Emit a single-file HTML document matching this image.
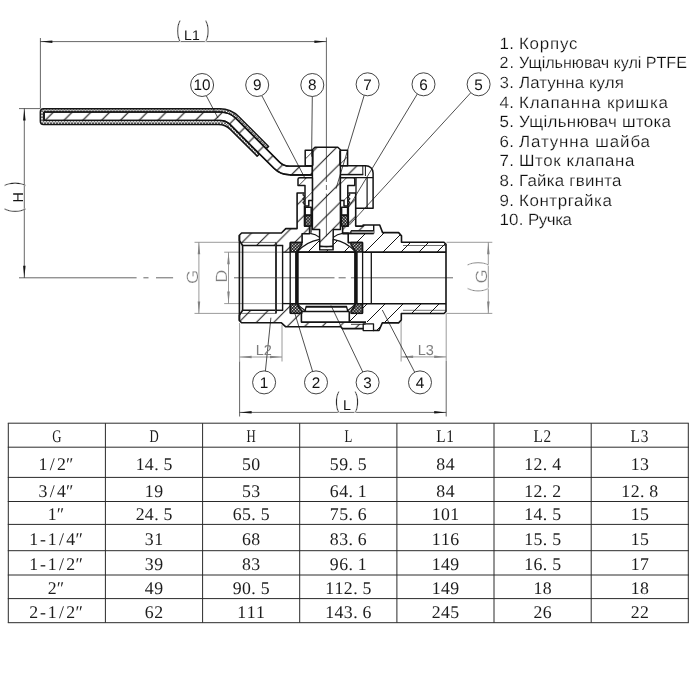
<!DOCTYPE html>
<html><head><meta charset="utf-8"><title>Ball valve</title>
<style>
html,body{margin:0;padding:0;background:#fff;}
#pg{position:relative;width:700px;height:700px;overflow:hidden;background:#fff;filter:grayscale(1);font-family:"Liberation Sans",sans-serif;}
svg text{font-family:"Liberation Sans",sans-serif;text-rendering:geometricPrecision;}
svg.tb text{font-family:"Liberation Serif",serif;fill:#1c1c1c;}
svg.lgd text{fill:#101010;stroke:#fff;stroke-width:0.2px;}
</style></head><body><div id="pg">
<svg width="700" height="700" viewBox="0 0 700 700" style="position:absolute;left:0;top:0">
<defs>
<pattern id="hHandle" patternUnits="userSpaceOnUse" width="18.8" height="18.8" patternTransform="translate(15.10,0)"><path d="M-1,1 L1,-1 M-1,19.8 L19.8,-1 M17.8,19.8 L19.8,17.8" stroke="#141414" stroke-width="1.15" fill="none"/></pattern>
<pattern id="hBody" patternUnits="userSpaceOnUse" width="17.5" height="17.5" patternTransform="translate(12.10,0)"><path d="M-1,1 L1,-1 M-1,18.5 L18.5,-1 M16.5,18.5 L18.5,16.5" stroke="#141414" stroke-width="1.0" fill="none"/></pattern>
<pattern id="hCap" patternUnits="userSpaceOnUse" width="18.0" height="18.0" patternTransform="translate(5.00,0)"><path d="M-1,1 L1,-1 M-1,19.0 L19.0,-1 M17.0,19.0 L19.0,17.0" stroke="#141414" stroke-width="1.0" fill="none"/></pattern>
<pattern id="hBodyB" patternUnits="userSpaceOnUse" width="17.5" height="17.5" patternTransform="translate(1.20,0)"><path d="M-1,1 L1,-1 M-1,18.5 L18.5,-1 M16.5,18.5 L18.5,16.5" stroke="#141414" stroke-width="1.0" fill="none"/></pattern>
<pattern id="hStem" patternUnits="userSpaceOnUse" width="19.5" height="19.5" patternTransform="translate(16.00,0)"><path d="M-1,1 L1,-1 M-1,20.5 L20.5,-1 M18.5,20.5 L20.5,18.5" stroke="#141414" stroke-width="1.0" fill="none"/></pattern>
<pattern id="hBall" patternUnits="userSpaceOnUse" width="18.0" height="18.0" patternTransform="translate(2.00,0)"><path d="M-1,1 L1,-1 M-1,19.0 L19.0,-1 M17.0,19.0 L19.0,17.0" stroke="#141414" stroke-width="1.0" fill="none"/></pattern>
<pattern id="hNut" patternUnits="userSpaceOnUse" width="20.0" height="20.0" patternTransform="translate(4.30,0)"><path d="M-1,1 L1,-1 M-1,21.0 L21.0,-1 M19.0,21.0 L21.0,19.0" stroke="#141414" stroke-width="0.8" fill="none"/></pattern>
<pattern id="xh" patternUnits="userSpaceOnUse" width="3" height="3" patternTransform="translate(0,0.3)"><rect width="3" height="3" fill="#fff"/><path d="M0,0 L3,3 M0,3 L3,0" stroke="#222" stroke-width="0.7"/></pattern>
<pattern id="xh2" patternUnits="userSpaceOnUse" width="2.2" height="2.2" patternTransform="rotate(45)"><rect width="2.2" height="2.2" fill="#1a1a1a"/><circle cx="1.1" cy="1.1" r="0.68" fill="#fff"/></pattern>
</defs>
<line x1="40.4" y1="38.0" x2="40.4" y2="108.6" stroke="#141414" stroke-width="0.65" />
<line x1="40.4" y1="41.6" x2="326.4" y2="41.6" stroke="#141414" stroke-width="0.65" />
<polygon points="40.4,41.6 52.4,40.4 52.4,42.9" fill="#141414"/>
<polygon points="326.4,41.6 314.4,40.4 314.4,42.9" fill="#141414"/>
<line x1="326.4" y1="37.5" x2="326.4" y2="147.0" stroke="#141414" stroke-width="0.65" />
<line x1="19.0" y1="108.6" x2="40.0" y2="108.6" stroke="#141414" stroke-width="0.65" />
<line x1="24.3" y1="108.6" x2="24.3" y2="277.8" stroke="#141414" stroke-width="0.65" />
<polygon points="24.3,108.6 23.1,120.6 25.6,120.6" fill="#141414"/>
<polygon points="24.3,277.8 23.1,265.8 25.6,265.8" fill="#141414"/>
<line x1="19.0" y1="277.8" x2="136.6" y2="277.8" stroke="#141414" stroke-width="0.65" />
<line x1="143.4" y1="277.8" x2="148.5" y2="277.8" stroke="#141414" stroke-width="0.65" />
<line x1="156.0" y1="277.8" x2="173.1" y2="277.8" stroke="#141414" stroke-width="0.65" />
<line x1="234.0" y1="277.8" x2="334.5" y2="277.8" stroke="#141414" stroke-width="0.65" />
<line x1="338.6" y1="277.8" x2="345.7" y2="277.8" stroke="#141414" stroke-width="0.65" />
<line x1="350.9" y1="277.8" x2="453.0" y2="277.8" stroke="#141414" stroke-width="0.65" />
<line x1="239.6" y1="323.0" x2="239.6" y2="361.5" stroke="#828282" stroke-width="0.8" />
<line x1="239.6" y1="361.5" x2="239.6" y2="416.5" stroke="#141414" stroke-width="0.65" />
<line x1="446.2" y1="361.0" x2="446.2" y2="416.5" stroke="#141414" stroke-width="0.65" />
<line x1="239.6" y1="412.4" x2="446.2" y2="412.4" stroke="#141414" stroke-width="0.65" />
<polygon points="239.6,412.4 251.6,411.1 251.6,413.6" fill="#141414"/>
<polygon points="446.2,412.4 434.2,411.1 434.2,413.6" fill="#141414"/>
<line x1="194.5" y1="242.3" x2="239.0" y2="242.3" stroke="#828282" stroke-width="0.8" />
<line x1="194.5" y1="313.4" x2="239.0" y2="313.4" stroke="#828282" stroke-width="0.8" />
<line x1="198.9" y1="242.3" x2="198.9" y2="313.4" stroke="#828282" stroke-width="0.8" />
<polygon points="198.9,242.3 197.7,254.3 200.2,254.3" fill="#828282"/>
<polygon points="198.9,313.4 197.7,301.4 200.2,301.4" fill="#828282"/>
<line x1="224.2" y1="252.2" x2="282.0" y2="252.2" stroke="#828282" stroke-width="0.8" />
<line x1="224.2" y1="303.6" x2="282.0" y2="303.6" stroke="#828282" stroke-width="0.8" />
<line x1="228.5" y1="252.2" x2="228.5" y2="303.6" stroke="#828282" stroke-width="0.8" />
<polygon points="228.5,252.2 227.2,264.2 229.8,264.2" fill="#828282"/>
<polygon points="228.5,303.6 227.2,291.6 229.8,291.6" fill="#828282"/>
<line x1="446.5" y1="242.3" x2="492.3" y2="242.3" stroke="#828282" stroke-width="0.8" />
<line x1="446.5" y1="313.4" x2="492.3" y2="313.4" stroke="#828282" stroke-width="0.8" />
<line x1="488.3" y1="242.3" x2="488.3" y2="313.4" stroke="#828282" stroke-width="0.8" />
<polygon points="488.3,242.3 487.1,254.3 489.6,254.3" fill="#828282"/>
<polygon points="488.3,313.4 487.1,301.4 489.6,301.4" fill="#828282"/>
<line x1="282.0" y1="325.0" x2="282.0" y2="361.5" stroke="#828282" stroke-width="0.8" />
<line x1="239.6" y1="357.0" x2="282.0" y2="357.0" stroke="#828282" stroke-width="0.8" />
<polygon points="239.6,357.0 251.6,355.8 251.6,358.2" fill="#828282"/>
<polygon points="282.0,357.0 270.0,355.8 270.0,358.2" fill="#828282"/>
<line x1="401.1" y1="321.0" x2="401.1" y2="361.5" stroke="#828282" stroke-width="0.8" />
<line x1="446.2" y1="313.4" x2="446.2" y2="361.0" stroke="#828282" stroke-width="0.8" />
<line x1="401.1" y1="356.9" x2="446.2" y2="356.9" stroke="#828282" stroke-width="0.8" />
<polygon points="401.1,356.9 413.1,355.6 413.1,358.1" fill="#828282"/>
<polygon points="446.2,356.9 434.2,355.6 434.2,358.1" fill="#828282"/>
<path d="M43.5,108.7 L219.9,108.7 Q230.9,108.7 238.7,116.5 L268.6,146.4 L266.2,148.8 L236.0,118.5 Q229.6,112.1 220.6,112.1 L44.1,112.1 L44.1,120.4 L220.0,120.4 Q226.0,120.4 230.2,124.6 L259.5,153.9 L257.1,156.2 L230.3,129.4 Q225.4,124.5 218.4,124.5 L43.5,124.5 L43.5,124.5 Q40.3,124.5 40.3,121.3 L40.3,111.9 Q40.3,108.7 43.5,108.7 Z" stroke="#141414" stroke-width="1.4" fill="url(#xh)" stroke-linejoin="round" stroke-linecap="butt" />
<path d="M44.1,112.1 L220.6,112.1 Q229.6,112.1 236.0,118.5 L279.4,161.9 Q283.6,166.1 289.6,166.1 L312.5,166.1 L312.5,174.7 L289.3,174.7 Q280.3,174.7 273.9,168.3 L230.2,124.6 Q226.0,120.4 220.0,120.4 L44.1,120.4 Z" stroke="#141414" stroke-width="1.4" fill="#fff" stroke-linejoin="round" stroke-linecap="butt" />
<path d="M44.1,112.1 L220.6,112.1 Q229.6,112.1 236.0,118.5 L279.4,161.9 Q283.6,166.1 289.6,166.1 L312.5,166.1 L312.5,174.7 L289.3,174.7 Q280.3,174.7 273.9,168.3 L230.2,124.6 Q226.0,120.4 220.0,120.4 L44.1,120.4 Z" stroke="#141414" stroke-width="0" fill="url(#hHandle)" stroke-linejoin="round" stroke-linecap="butt" />
<path d="M44.1,112.1 L220.6,112.1 Q229.6,112.1 236.0,118.5 L279.4,161.9 Q283.6,166.1 289.6,166.1 L312.5,166.1 L312.5,174.7 L289.3,174.7 Q280.3,174.7 273.9,168.3 L230.2,124.6 Q226.0,120.4 220.0,120.4 L44.1,120.4 Z" stroke="#141414" stroke-width="1.4" fill="none" stroke-linejoin="round" stroke-linecap="butt" />
<line x1="290.0" y1="174.9" x2="312.5" y2="174.9" stroke="#141414" stroke-width="1.8" />
<path d="M340.4,165.7 L365.8,165.7 A7.3,7.3 0 0 1 373.1,173 L373.1,177.6 L340.4,177.6 Z" stroke="#141414" stroke-width="0" fill="#fff" stroke-linejoin="round" stroke-linecap="butt" />
<path d="M340.4,165.7 L362.8,165.7 L362.8,174.6 L340.4,174.6 Z" stroke="#141414" stroke-width="0" fill="url(#hHandle)" stroke-linejoin="round" stroke-linecap="butt" />
<path d="M340.4,165.7 L365.8,165.7 A7.3,7.3 0 0 1 373.1,173 L373.1,208.2 L356,208.2" stroke="#141414" stroke-width="1.5" fill="none" stroke-linejoin="round" stroke-linecap="butt" />
<line x1="356.0" y1="177.6" x2="356.0" y2="193.0" stroke="#141414" stroke-width="1.3" />
<line x1="340.4" y1="174.6" x2="363.3" y2="174.6" stroke="#141414" stroke-width="1.5" />
<line x1="340.4" y1="177.6" x2="373.1" y2="177.6" stroke="#141414" stroke-width="1.3" />
<line x1="362.8" y1="165.7" x2="362.8" y2="174.6" stroke="#141414" stroke-width="1.0" />
<line x1="365.4" y1="166.0" x2="365.4" y2="176.0" stroke="#141414" stroke-width="1.0" />
<line x1="367.1" y1="177.6" x2="367.1" y2="208.2" stroke="#141414" stroke-width="1.2" />
<path d="M315.0,147.2 L337.8,147.2 L340.4,149.8 L340.4,229.6 L333.2,229.6 L333.2,246.4 L319.6,246.4 L319.6,229.6 L312.4,229.6 L312.4,149.8Z" stroke="#141414" stroke-width="0" fill="#fff" stroke-linejoin="round" stroke-linecap="butt" />
<path d="M315.0,147.2 L337.8,147.2 L340.4,149.8 L340.4,229.6 L333.2,229.6 L333.2,246.4 L319.6,246.4 L319.6,229.6 L312.4,229.6 L312.4,149.8Z" stroke="#141414" stroke-width="0" fill="url(#hStem)" stroke-linejoin="round" stroke-linecap="butt" />
<path d="M315.0,147.2 L337.8,147.2 L340.4,149.8 L340.4,229.6 L333.2,229.6 L333.2,246.4 L319.6,246.4 L319.6,229.6 L312.4,229.6 L312.4,149.8Z" stroke="#141414" stroke-width="1.5" fill="none" stroke-linejoin="round" stroke-linecap="butt" />
<line x1="312.4" y1="150.5" x2="312.4" y2="165.5" stroke="#141414" stroke-width="2.2" />
<line x1="340.4" y1="150.5" x2="340.4" y2="165.5" stroke="#141414" stroke-width="2.2" />
<line x1="319.6" y1="250.0" x2="333.2" y2="250.0" stroke="#141414" stroke-width="1.2" />
<path d="M319.6,246.0 Q326.4,247.6 333.2,246.0" stroke="#141414" stroke-width="1.0" fill="none" stroke-linejoin="round" stroke-linecap="butt" />
<line x1="319.6" y1="246.4" x2="319.6" y2="250.5" stroke="#141414" stroke-width="1.3" />
<line x1="333.2" y1="246.4" x2="333.2" y2="250.5" stroke="#141414" stroke-width="1.3" />
<line x1="326.4" y1="147.0" x2="326.4" y2="182.0" stroke="#141414" stroke-width="0.65" />
<line x1="326.4" y1="185.0" x2="326.4" y2="190.0" stroke="#141414" stroke-width="0.65" />
<line x1="326.4" y1="193.6" x2="326.4" y2="236.4" stroke="#141414" stroke-width="0.65" />
<line x1="326.4" y1="249.5" x2="326.4" y2="252.5" stroke="#141414" stroke-width="0.65" />
<path d="M305.2,150.2 L312.4,150.2 L312.4,165.7 L305.2,165.7Z" stroke="#141414" stroke-width="0" fill="#fff" stroke-linejoin="round" stroke-linecap="butt" />
<path d="M305.2,150.2 L312.4,150.2 L312.4,165.7 L305.2,165.7Z" stroke="#141414" stroke-width="0" fill="url(#hNut)" stroke-linejoin="round" stroke-linecap="butt" />
<path d="M305.2,150.2 L312.4,150.2 L312.4,165.7 L305.2,165.7Z" stroke="#141414" stroke-width="1.5" fill="none" stroke-linejoin="round" stroke-linecap="butt" />
<path d="M347.6,150.2 L340.4,150.2 L340.4,165.7 L347.6,165.7Z" stroke="#141414" stroke-width="0" fill="#fff" stroke-linejoin="round" stroke-linecap="butt" />
<path d="M347.6,150.2 L340.4,150.2 L340.4,165.7 L347.6,165.7Z" stroke="#141414" stroke-width="0" fill="url(#hNut)" stroke-linejoin="round" stroke-linecap="butt" />
<path d="M347.6,150.2 L340.4,150.2 L340.4,165.7 L347.6,165.7Z" stroke="#141414" stroke-width="1.5" fill="none" stroke-linejoin="round" stroke-linecap="butt" />
<path d="M299.6,177.7 L312.4,177.7 L312.4,200.4 L308.8,200.4 L308.8,206 L305,206 L305,185.4 L298,185.4 L298,179.3 Q298,177.7 299.6,177.7 Z" stroke="#141414" stroke-width="0" fill="#fff" stroke-linejoin="round" stroke-linecap="butt" />
<path d="M299.6,177.7 L312.4,177.7 L312.4,200.4 L308.8,200.4 L308.8,206 L305,206 L305,185.4 L298,185.4 L298,179.3 Q298,177.7 299.6,177.7 Z" stroke="#141414" stroke-width="0" fill="url(#hNut)" stroke-linejoin="round" stroke-linecap="butt" />
<path d="M299.6,177.7 L312.4,177.7 L312.4,200.4 L308.8,200.4 L308.8,206 L305,206 L305,185.4 L298,185.4 L298,179.3 Q298,177.7 299.6,177.7 Z" stroke="#141414" stroke-width="1.5" fill="none" stroke-linejoin="round" stroke-linecap="butt" />
<path d="M 353.2,177.7 L 340.4,177.7 L 340.4,200.4 L 344.0,200.4 L 344.0,206.0 L 347.8,206.0 L 347.8,185.4 L 354.8,185.4 L 354.8,179.3 Q 354.8,177.7 353.2,177.7 Z" stroke="#141414" stroke-width="0" fill="#fff" stroke-linejoin="round" stroke-linecap="butt" />
<path d="M 353.2,177.7 L 340.4,177.7 L 340.4,200.4 L 344.0,200.4 L 344.0,206.0 L 347.8,206.0 L 347.8,185.4 L 354.8,185.4 L 354.8,179.3 Q 354.8,177.7 353.2,177.7 Z" stroke="#141414" stroke-width="0" fill="url(#hNut)" stroke-linejoin="round" stroke-linecap="butt" />
<path d="M 353.2,177.7 L 340.4,177.7 L 340.4,200.4 L 344.0,200.4 L 344.0,206.0 L 347.8,206.0 L 347.8,185.4 L 354.8,185.4 L 354.8,179.3 Q 354.8,177.7 353.2,177.7 Z" stroke="#141414" stroke-width="1.5" fill="none" stroke-linejoin="round" stroke-linecap="butt" />
<path d="M304.2,193.8 q-2.6,1.0 0,2.0 l0,1.9 q-2.6,1.0 0,2.0 l0,1.9 q-2.6,1.0 0,2.0 l0,1.9" stroke="#141414" stroke-width="1.2" fill="none" stroke-linejoin="round" stroke-linecap="butt" />
<path d="M348.6,193.8 q2.6,1.0 0,2.0 l0,1.9 q2.6,1.0 0,2.0 l0,1.9 q2.6,1.0 0,2.0 l0,1.9" stroke="#141414" stroke-width="1.2" fill="none" stroke-linejoin="round" stroke-linecap="butt" />
<path d="M239.4,235.2 L241.6,233.0 L281.4,233.0 L285.8,228.6 L297.1,228.6 L297.1,193.0 L304.5,193.0 L304.5,226.1 L309.6,226.1 L309.6,233.7 L302.1,233.7 L302.1,242.5 L290.4,242.5 L290.4,252.1 L282.6,252.1 L282.6,245.5 L242.6,245.5 L239.4,240.5Z" stroke="#141414" stroke-width="0" fill="url(#hBody)" stroke-linejoin="round" stroke-linecap="butt" />
<path d="M348.3,193.0 L355.7,193.0 L355.7,226.1 L363.1,226.1 L363.1,225.0 L373.7,225.0 L373.7,230.9 L350.9,230.9 L350.9,233.4 L342.6,233.4 L342.6,226.1 L348.3,226.1Z" stroke="#141414" stroke-width="0" fill="url(#hBody)" stroke-linejoin="round" stroke-linecap="butt" />
<path d="M239.4,320.6 L241.6,322.8 L281.4,322.8 L285.8,326.8 L340.7,326.8 L342.5,328.6 L363.5,328.6 L363.5,324.0 L351.0,324.0 L351.0,322.1 L301.4,322.1 L301.4,313.3 L290.4,313.3 L290.4,303.7 L282.6,303.7 L282.6,310.3 L242.6,310.3 L239.4,315.3Z" stroke="#141414" stroke-width="0" fill="url(#hBodyB)" stroke-linejoin="round" stroke-linecap="butt" />
<path d="M348.2,233.4 L373.7,233.4 L373.7,225.0 L379.7,225.0 L382.6,232.6 L398.6,232.6 L401.5,235.9 L401.5,242.3 L444.0,242.3 L446.0,244.3 L446.0,252.1 L362.6,252.1 L362.6,242.6 L348.2,242.6Z" stroke="#141414" stroke-width="0" fill="url(#hCap)" stroke-linejoin="round" stroke-linecap="butt" />
<path d="M349.3,322.1 L366.0,322.1 L373.0,322.1 L373.0,330.5 L379.0,330.5 L382.3,322.9 L398.6,322.9 L401.3,320.0 L401.3,313.5 L444.0,313.5 L446.0,311.5 L446.0,303.7 L362.4,303.7 L362.4,313.3 L349.3,313.3Z" stroke="#141414" stroke-width="0" fill="url(#hCap)" stroke-linejoin="round" stroke-linecap="butt" />
<path d="M242.6,245.5 L239.4,240.5 L239.4,235.2 L241.6,233.0 L281.4,233.0 L285.8,228.6 L297.1,228.6 L297.1,193.0 L304.5,193.0" stroke="#141414" stroke-width="1.6" fill="none" stroke-linejoin="round" stroke-linecap="butt" />
<path d="M304.5,206.0 L304.5,226.1 L309.6,226.1 L309.6,233.7 L302.1,233.7 L302.1,242.5 L290.4,242.5" stroke="#141414" stroke-width="1.6" fill="none" stroke-linejoin="round" stroke-linecap="butt" />
<path d="M242.6,310.3 L239.4,315.3 L239.4,320.6 L241.6,322.8 L281.4,322.8 L285.8,326.8 L340.7,326.8 L342.5,328.6 L363.5,328.6" stroke="#141414" stroke-width="1.6" fill="none" stroke-linejoin="round" stroke-linecap="butt" />
<line x1="239.4" y1="235.2" x2="239.4" y2="320.6" stroke="#141414" stroke-width="1.6" />
<line x1="241.5" y1="242.4" x2="276.0" y2="242.4" stroke="#141414" stroke-width="0.6" />
<line x1="241.5" y1="313.4" x2="276.0" y2="313.4" stroke="#141414" stroke-width="0.6" />
<path d="M276.0,245.5 L242.6,245.5 L242.6,310.3 L276.0,310.3" stroke="#141414" stroke-width="1.6" fill="none" stroke-linejoin="round" stroke-linecap="butt" />
<line x1="276.0" y1="242.4" x2="276.0" y2="313.4" stroke="#333" stroke-width="2.0" />
<line x1="276.0" y1="245.5" x2="283.2" y2="245.5" stroke="#141414" stroke-width="1.5" />
<line x1="276.0" y1="310.3" x2="283.2" y2="310.3" stroke="#141414" stroke-width="1.5" />
<line x1="282.6" y1="245.5" x2="282.6" y2="310.3" stroke="#141414" stroke-width="1.4" />
<line x1="282.6" y1="252.2" x2="290.4" y2="252.2" stroke="#141414" stroke-width="1.3" />
<line x1="282.6" y1="303.6" x2="290.4" y2="303.6" stroke="#141414" stroke-width="1.3" />
<line x1="290.2" y1="242.5" x2="290.2" y2="313.3" stroke="#141414" stroke-width="1.3" />
<path d="M348.3,193.0 L355.7,193.0 L355.7,226.1 L363.1,226.1 L363.1,225.0 L379.7,225.0 L382.6,232.6 L398.6,232.6 L401.5,235.9 L401.5,242.3 L444.0,242.3 L446.0,244.3 L446.0,311.5 L444.0,313.5 L401.3,313.5 L401.3,320.0 L398.6,322.9 L382.3,322.9 L379.0,330.5 L373.0,330.5" stroke="#141414" stroke-width="1.6" fill="none" stroke-linejoin="round" stroke-linecap="butt" />
<path d="M348.3,206.0 L348.3,226.1 L342.6,226.1 L342.6,233.4 L348.2,233.4 L348.2,242.6 L362.6,242.6" stroke="#141414" stroke-width="1.6" fill="none" stroke-linejoin="round" stroke-linecap="butt" />
<line x1="373.7" y1="225.0" x2="373.7" y2="233.4" stroke="#141414" stroke-width="1.4" />
<line x1="350.9" y1="230.9" x2="373.7" y2="230.9" stroke="#141414" stroke-width="1.4" />
<line x1="342.6" y1="233.4" x2="373.7" y2="233.4" stroke="#141414" stroke-width="1.6" />
<path d="M350.9,230.9 L373.7,230.9 L373.7,233.4 L350.9,233.4Z" stroke="#141414" stroke-width="0" fill="#fff" stroke-linejoin="round" stroke-linecap="butt" />
<line x1="350.9" y1="230.9" x2="373.7" y2="230.9" stroke="#141414" stroke-width="1.4" />
<line x1="342.6" y1="233.4" x2="373.7" y2="233.4" stroke="#141414" stroke-width="1.6" />
<line x1="350.9" y1="230.9" x2="350.9" y2="233.4" stroke="#141414" stroke-width="1.2" />
<path d="M363.2,323.8 L373.5,323.8 L373.5,330.6 L363.2,330.6Z" stroke="#141414" stroke-width="1.3" fill="none" stroke-linejoin="round" stroke-linecap="butt" />
<line x1="351.0" y1="324.3" x2="365.5" y2="324.3" stroke="#141414" stroke-width="0.8" />
<line x1="403.0" y1="245.5" x2="446.0" y2="245.5" stroke="#141414" stroke-width="0.6" />
<line x1="403.0" y1="310.3" x2="446.0" y2="310.3" stroke="#141414" stroke-width="0.6" />
<line x1="362.4" y1="252.1" x2="446.0" y2="252.1" stroke="#141414" stroke-width="1.6" />
<line x1="362.4" y1="303.7" x2="446.0" y2="303.7" stroke="#141414" stroke-width="1.6" />
<line x1="362.6" y1="242.5" x2="362.6" y2="313.3" stroke="#141414" stroke-width="1.3" />
<line x1="371.3" y1="252.1" x2="371.3" y2="303.7" stroke="#141414" stroke-width="1.3" />
<path d="M301.4,311.4 L301.4,322.1 L366.0,322.1" stroke="#141414" stroke-width="1.6" fill="none" stroke-linejoin="round" stroke-linecap="butt" />
<line x1="349.3" y1="311.4" x2="349.3" y2="322.1" stroke="#141414" stroke-width="1.6" />
<line x1="301.4" y1="311.4" x2="349.3" y2="311.4" stroke="#141414" stroke-width="1.6" />
<path d="M290.4,313.3 L301.4,313.3" stroke="#141414" stroke-width="1.6" fill="none" stroke-linejoin="round" stroke-linecap="butt" />
<path d="M351.4,313.3 L362.4,313.3" stroke="#141414" stroke-width="1.6" fill="none" stroke-linejoin="round" stroke-linecap="butt" />
<path d="M297,252.1 A39.05,39.05 0 0 1 319.6,239.4 L319.6,250 L333.2,250 L333.2,239.4 A39.05,39.05 0 0 1 355.8,252.1 Z" stroke="#141414" stroke-width="0" fill="#fff" stroke-linejoin="round" stroke-linecap="butt" />
<path d="M297,252.1 A39.05,39.05 0 0 1 319.6,239.4 L319.6,250 L333.2,250 L333.2,239.4 A39.05,39.05 0 0 1 355.8,252.1 Z" stroke="#141414" stroke-width="0" fill="url(#hBall)" stroke-linejoin="round" stroke-linecap="butt" />
<path d="M297,252.1 A39.05,39.05 0 0 1 319.6,239.4 L319.6,250 L333.2,250 L333.2,239.4 A39.05,39.05 0 0 1 355.8,252.1 Z" stroke="#141414" stroke-width="1.2" fill="none" stroke-linejoin="round" stroke-linecap="butt" />
<path d="M311.1,226.1 L311.1,232.7 M310.2,233.4 Q315.8,234.2 319.5,237.4" stroke="#141414" stroke-width="1.1" fill="none" stroke-linejoin="round" stroke-linecap="butt" />
<path d="M342.6,233.4 Q337,234.2 333.3,237.4" stroke="#141414" stroke-width="1.1" fill="none" stroke-linejoin="round" stroke-linecap="butt" />
<path d="M297,303.7 A39.05,39.05 0 0 0 306.4,311.4 L346.4,311.4 A39.05,39.05 0 0 0 355.8,303.7 Z" stroke="#141414" stroke-width="0" fill="#fff" stroke-linejoin="round" stroke-linecap="butt" />
<path d="M297,303.7 A39.05,39.05 0 0 0 306.4,311.4 L346.4,311.4 A39.05,39.05 0 0 0 355.8,303.7 Z" stroke="#141414" stroke-width="1.2" fill="none" stroke-linejoin="round" stroke-linecap="butt" />
<line x1="306.0" y1="306.7" x2="346.6" y2="306.7" stroke="#141414" stroke-width="2.1" />
<line x1="306.3" y1="306.0" x2="304.9" y2="311.4" stroke="#141414" stroke-width="1.3" />
<line x1="346.3" y1="306.0" x2="347.9" y2="311.4" stroke="#141414" stroke-width="1.3" />
<line x1="297.0" y1="252.1" x2="355.8" y2="252.1" stroke="#141414" stroke-width="1.6" />
<line x1="297.0" y1="303.7" x2="355.8" y2="303.7" stroke="#141414" stroke-width="1.6" />
<line x1="296.9" y1="252.1" x2="296.9" y2="303.7" stroke="#141414" stroke-width="3.6" />
<line x1="355.9" y1="252.1" x2="355.9" y2="303.7" stroke="#141414" stroke-width="3.6" />
<path d="M290.4,242.5 L301.8,242.5 L301.8,244.8 L299.4,248.0 L297.0,252.1 L290.4,252.1Z" stroke="#141414" stroke-width="1.5" fill="url(#xh2)" stroke-linejoin="round" stroke-linecap="butt" />
<path d="M362.4,242.5 L351.0,242.5 L351.0,244.8 L353.4,248.0 L355.8,252.1 L362.4,252.1Z" stroke="#141414" stroke-width="1.5" fill="url(#xh2)" stroke-linejoin="round" stroke-linecap="butt" />
<path d="M290.4,313.3 L301.8,313.3 L301.8,311.0 L299.4,307.8 L297.0,303.7 L290.4,303.7Z" stroke="#141414" stroke-width="1.5" fill="url(#xh2)" stroke-linejoin="round" stroke-linecap="butt" />
<path d="M362.4,313.3 L351.0,313.3 L351.0,311.0 L353.4,307.8 L355.8,303.7 L362.4,303.7Z" stroke="#141414" stroke-width="1.5" fill="url(#xh2)" stroke-linejoin="round" stroke-linecap="butt" />
<path d="M305.2,207.3 L311.2,207.3 L311.2,214.9 L305.2,214.9Z" stroke="#141414" stroke-width="1.5" fill="#fff" stroke-linejoin="round" stroke-linecap="butt" />
<path d="M305.0,215.6 L311.4,215.6 L311.4,226.1 L305.0,226.1Z" stroke="#141414" stroke-width="1.5" fill="url(#xh2)" stroke-linejoin="round" stroke-linecap="butt" />
<path d="M347.6,207.3 L341.6,207.3 L341.6,214.9 L347.6,214.9Z" stroke="#141414" stroke-width="1.5" fill="#fff" stroke-linejoin="round" stroke-linecap="butt" />
<path d="M347.8,215.6 L341.4,215.6 L341.4,226.1 L347.8,226.1Z" stroke="#141414" stroke-width="1.5" fill="url(#xh2)" stroke-linejoin="round" stroke-linecap="butt" />
<line x1="206.3" y1="95.8" x2="218.0" y2="118.1" stroke="#141414" stroke-width="0.75" />
<line x1="261.8" y1="95.6" x2="305.4" y2="179.0" stroke="#141414" stroke-width="0.75" />
<line x1="312.3" y1="96.5" x2="311.6" y2="156.7" stroke="#141414" stroke-width="0.75" />
<line x1="364.2" y1="95.3" x2="336.0" y2="188.7" stroke="#141414" stroke-width="0.75" />
<line x1="417.3" y1="94.0" x2="348.2" y2="208.0" stroke="#141414" stroke-width="0.75" />
<line x1="470.8" y1="92.7" x2="349.4" y2="225.0" stroke="#141414" stroke-width="0.75" />
<line x1="265.4" y1="371.0" x2="270.9" y2="317.7" stroke="#141414" stroke-width="0.75" />
<line x1="312.6" y1="371.4" x2="294.6" y2="312.6" stroke="#141414" stroke-width="0.75" />
<line x1="362.8" y1="372.0" x2="331.0" y2="305.5" stroke="#141414" stroke-width="0.75" />
<line x1="414.7" y1="372.2" x2="382.3" y2="310.0" stroke="#141414" stroke-width="0.75" />
<circle cx="202.1" cy="85" r="11.5" fill="#fff" stroke="#141414" stroke-width="0.8"/>
<text x="202.1" y="90.4" font-size="15.3" fill="#141414" text-anchor="middle" >10</text>
<circle cx="257.2" cy="85" r="11.5" fill="#fff" stroke="#141414" stroke-width="0.8"/>
<text x="257.2" y="90.4" font-size="15.3" fill="#141414" text-anchor="middle" >9</text>
<circle cx="312.3" cy="85" r="11.5" fill="#fff" stroke="#141414" stroke-width="0.8"/>
<text x="312.3" y="90.4" font-size="15.3" fill="#141414" text-anchor="middle" >8</text>
<circle cx="367.6" cy="84.3" r="11.5" fill="#fff" stroke="#141414" stroke-width="0.8"/>
<text x="367.6" y="89.7" font-size="15.3" fill="#141414" text-anchor="middle" >7</text>
<circle cx="423.5" cy="84.3" r="11.5" fill="#fff" stroke="#141414" stroke-width="0.8"/>
<text x="423.5" y="89.7" font-size="15.3" fill="#141414" text-anchor="middle" >6</text>
<circle cx="478.6" cy="84.3" r="11.5" fill="#fff" stroke="#141414" stroke-width="0.8"/>
<text x="478.6" y="89.7" font-size="15.3" fill="#141414" text-anchor="middle" >5</text>
<circle cx="264.1" cy="382.4" r="11.5" fill="#fff" stroke="#141414" stroke-width="0.8"/>
<text x="264.1" y="387.8" font-size="15.3" fill="#141414" text-anchor="middle" >1</text>
<circle cx="316" cy="382.4" r="11.5" fill="#fff" stroke="#141414" stroke-width="0.8"/>
<text x="316.0" y="387.8" font-size="15.3" fill="#141414" text-anchor="middle" >2</text>
<circle cx="367.6" cy="382.4" r="11.5" fill="#fff" stroke="#141414" stroke-width="0.8"/>
<text x="367.6" y="387.8" font-size="15.3" fill="#141414" text-anchor="middle" >3</text>
<circle cx="420" cy="382.4" r="11.5" fill="#fff" stroke="#141414" stroke-width="0.8"/>
<text x="420.0" y="387.8" font-size="15.3" fill="#141414" text-anchor="middle" >4</text>
<text x="191.9" y="40.1" font-size="14" fill="#141414" text-anchor="middle" >L1</text>
<text transform="translate(178.5,37.4) rotate(0) scale(0.8,1.35)" x="0" y="0" font-size="17" fill="#141414" text-anchor="middle" stroke="#fff" stroke-width="0.35">(</text>
<text transform="translate(207.2,37.4) rotate(0) scale(0.8,1.35)" x="0" y="0" font-size="17" fill="#141414" text-anchor="middle" stroke="#fff" stroke-width="0.35">)</text>
<text x="22.8" y="197.4" font-size="14.3" fill="#141414" text-anchor="middle" transform="rotate(-90 22.8 197.4)" >H</text>
<text transform="translate(21.0,210.6) rotate(-90) scale(0.8,1.35)" x="0" y="0" font-size="17" fill="#141414" text-anchor="middle" stroke="#fff" stroke-width="0.35">(</text>
<text transform="translate(21.0,184.0) rotate(-90) scale(0.8,1.35)" x="0" y="0" font-size="17" fill="#141414" text-anchor="middle" stroke="#fff" stroke-width="0.35">)</text>
<text transform="translate(197.6,276.8) rotate(-90) scale(1.12,1)" x="0" y="0" font-size="16.3" fill="#7d7d7d" text-anchor="middle" stroke="#fff" stroke-width="0.25">G</text>
<text transform="translate(226.8,276.2) rotate(-90) scale(1.12,1)" x="0" y="0" font-size="16.3" fill="#7d7d7d" text-anchor="middle" stroke="#fff" stroke-width="0.25">D</text>
<text transform="translate(486.6,276.4) rotate(-90) scale(1.12,1)" x="0" y="0" font-size="16.3" fill="#7d7d7d" text-anchor="middle" stroke="#fff" stroke-width="0.25">G</text>
<text transform="translate(484.4,290.1) rotate(-90) scale(0.8,1.35)" x="0" y="0" font-size="17" fill="#7d7d7d" text-anchor="middle" stroke="#fff" stroke-width="0.35">(</text>
<text transform="translate(484.4,263.5) rotate(-90) scale(0.8,1.35)" x="0" y="0" font-size="17" fill="#7d7d7d" text-anchor="middle" stroke="#fff" stroke-width="0.35">)</text>
<text x="263.7" y="355.4" font-size="14.5" fill="#7d7d7d" text-anchor="middle" >L2</text>
<text x="425.7" y="355.4" font-size="14.5" fill="#7d7d7d" text-anchor="middle" >L3</text>
<text x="346.9" y="410.1" font-size="14.3" fill="#141414" text-anchor="middle" >L</text>
<text transform="translate(337.2,408.2) rotate(0) scale(0.8,1.35)" x="0" y="0" font-size="17" fill="#141414" text-anchor="middle" stroke="#fff" stroke-width="0.35">(</text>
<text transform="translate(356.8,408.2) rotate(0) scale(0.8,1.35)" x="0" y="0" font-size="17" fill="#141414" text-anchor="middle" stroke="#fff" stroke-width="0.35">)</text>
</svg>
<svg width="700" height="700" viewBox="0 0 700 700" style="position:absolute;left:0;top:0" class="lgd">
<text transform="translate(499.4,48.70) scale(1.04,1)" x="0" y="0" font-size="16.3" textLength="14.04" lengthAdjust="spacing">1.</text>
<text transform="translate(519.0,48.70) scale(1.04,1)" x="0" y="0" font-size="16.3" textLength="56.15" lengthAdjust="spacing">Корпус</text>
<text transform="translate(499.4,68.33) scale(0.99,1)" x="0" y="0" font-size="16.3" textLength="14.75" lengthAdjust="spacing">2.</text>
<text transform="translate(519.0,68.33) scale(0.99,1)" x="0" y="0" font-size="16.3" textLength="169.60" lengthAdjust="spacing">Ущільнювач кулі PTFE</text>
<text transform="translate(499.4,87.96) scale(1.04,1)" x="0" y="0" font-size="16.3" textLength="14.04" lengthAdjust="spacing">3.</text>
<text transform="translate(519.0,87.96) scale(1.04,1)" x="0" y="0" font-size="16.3" textLength="100.87" lengthAdjust="spacing">Латунна куля</text>
<text transform="translate(499.4,107.59) scale(1.04,1)" x="0" y="0" font-size="16.3" textLength="14.04" lengthAdjust="spacing">4.</text>
<text transform="translate(519.0,107.59) scale(1.04,1)" x="0" y="0" font-size="16.3" textLength="143.27" lengthAdjust="spacing">Клапанна кришка</text>
<text transform="translate(499.4,127.22) scale(1.04,1)" x="0" y="0" font-size="16.3" textLength="14.04" lengthAdjust="spacing">5.</text>
<text transform="translate(519.0,127.22) scale(1.04,1)" x="0" y="0" font-size="16.3" textLength="146.15" lengthAdjust="spacing">Ущільнювач штока</text>
<text transform="translate(499.4,146.85) scale(1.04,1)" x="0" y="0" font-size="16.3" textLength="14.04" lengthAdjust="spacing">6.</text>
<text transform="translate(519.0,146.85) scale(1.04,1)" x="0" y="0" font-size="16.3" textLength="125.96" lengthAdjust="spacing">Латунна шайба</text>
<text transform="translate(499.4,166.48) scale(1.04,1)" x="0" y="0" font-size="16.3" textLength="14.04" lengthAdjust="spacing">7.</text>
<text transform="translate(519.0,166.48) scale(1.04,1)" x="0" y="0" font-size="16.3" textLength="110.96" lengthAdjust="spacing">Шток клапана</text>
<text transform="translate(499.4,186.11) scale(1.04,1)" x="0" y="0" font-size="16.3" textLength="14.04" lengthAdjust="spacing">8.</text>
<text transform="translate(519.0,186.11) scale(1.04,1)" x="0" y="0" font-size="16.3" textLength="98.56" lengthAdjust="spacing">Гайка гвинта</text>
<text transform="translate(499.4,205.74) scale(1.04,1)" x="0" y="0" font-size="16.3" textLength="14.04" lengthAdjust="spacing">9.</text>
<text transform="translate(519.0,205.74) scale(1.04,1)" x="0" y="0" font-size="16.3" textLength="89.33" lengthAdjust="spacing">Контргайка</text>
<text transform="translate(499.4,225.37) scale(1.04,1)" x="0" y="0" font-size="16.3" textLength="23.08" lengthAdjust="spacing">10.</text>
<text transform="translate(528.0,225.37) scale(1.04,1)" x="0" y="0" font-size="16.3" textLength="42.31" lengthAdjust="spacing">Ручка</text>
</svg>
<svg width="700" height="700" viewBox="0 0 700 700" style="position:absolute;left:0;top:0" class="tb">
<line x1="8.3" y1="423.2" x2="8.3" y2="622.7" stroke="#2a2a2a" stroke-width="1"/>
<line x1="105.4" y1="423.2" x2="105.4" y2="622.7" stroke="#2a2a2a" stroke-width="1"/>
<line x1="202.6" y1="423.2" x2="202.6" y2="622.7" stroke="#2a2a2a" stroke-width="1"/>
<line x1="299.7" y1="423.2" x2="299.7" y2="622.7" stroke="#2a2a2a" stroke-width="1"/>
<line x1="396.9" y1="423.2" x2="396.9" y2="622.7" stroke="#2a2a2a" stroke-width="1"/>
<line x1="494.0" y1="423.2" x2="494.0" y2="622.7" stroke="#2a2a2a" stroke-width="1"/>
<line x1="591.2" y1="423.2" x2="591.2" y2="622.7" stroke="#2a2a2a" stroke-width="1"/>
<line x1="688.3" y1="423.2" x2="688.3" y2="622.7" stroke="#2a2a2a" stroke-width="1"/>
<line x1="7.800000000000001" y1="423.2" x2="688.8" y2="423.2" stroke="#2a2a2a" stroke-width="1"/>
<line x1="7.800000000000001" y1="447.2" x2="688.8" y2="447.2" stroke="#2a2a2a" stroke-width="1"/>
<line x1="7.800000000000001" y1="477.4" x2="688.8" y2="477.4" stroke="#2a2a2a" stroke-width="1"/>
<line x1="7.800000000000001" y1="501.5" x2="688.8" y2="501.5" stroke="#2a2a2a" stroke-width="1"/>
<line x1="7.800000000000001" y1="524.4" x2="688.8" y2="524.4" stroke="#2a2a2a" stroke-width="1"/>
<line x1="7.800000000000001" y1="550.7" x2="688.8" y2="550.7" stroke="#2a2a2a" stroke-width="1"/>
<line x1="7.800000000000001" y1="575.0" x2="688.8" y2="575.0" stroke="#2a2a2a" stroke-width="1"/>
<line x1="7.800000000000001" y1="598.6" x2="688.8" y2="598.6" stroke="#2a2a2a" stroke-width="1"/>
<line x1="7.800000000000001" y1="622.7" x2="688.8" y2="622.7" stroke="#2a2a2a" stroke-width="1"/>
<text transform="translate(56.9,442.4) scale(0.72,1)" x="0" y="0" text-anchor="middle" font-size="17.8">G</text>
<text transform="translate(154.0,442.4) scale(0.72,1)" x="0" y="0" text-anchor="middle" font-size="17.8">D</text>
<text transform="translate(251.1,442.4) scale(0.72,1)" x="0" y="0" text-anchor="middle" font-size="17.8">H</text>
<text transform="translate(348.3,442.4) scale(0.72,1)" x="0" y="0" text-anchor="middle" font-size="17.8">L</text>
<text transform="translate(445.4,442.4) scale(0.86,1)" x="0" y="0" text-anchor="middle" font-size="17.8" letter-spacing="0.8">L1</text>
<text transform="translate(542.6,442.4) scale(0.86,1)" x="0" y="0" text-anchor="middle" font-size="17.8" letter-spacing="0.8">L2</text>
<text transform="translate(639.8,442.4) scale(0.86,1)" x="0" y="0" text-anchor="middle" font-size="17.8" letter-spacing="0.8">L3</text>
<text x="42.9 52.2 61.5 69.8" y="469.5" text-anchor="middle" font-size="17.8">1/2″</text>
<text x="140.1 149.3 156.5 167.9" y="469.5" text-anchor="middle" font-size="17.8">14.5</text>
<text x="246.5 255.8" y="469.5" text-anchor="middle" font-size="17.8">50</text>
<text x="334.3 343.6 350.7 362.2" y="469.5" text-anchor="middle" font-size="17.8">59.5</text>
<text x="440.8 450.1" y="469.5" text-anchor="middle" font-size="17.8">84</text>
<text x="528.6 538.0 545.0 556.6" y="469.5" text-anchor="middle" font-size="17.8">12.4</text>
<text x="635.1 644.4" y="469.5" text-anchor="middle" font-size="17.8">13</text>
<text x="42.9 52.2 61.5 69.8" y="496.6" text-anchor="middle" font-size="17.8">3/4″</text>
<text x="149.3 158.7" y="496.6" text-anchor="middle" font-size="17.8">19</text>
<text x="246.5 255.8" y="496.6" text-anchor="middle" font-size="17.8">53</text>
<text x="334.3 343.6 350.7 362.2" y="496.6" text-anchor="middle" font-size="17.8">64.1</text>
<text x="440.8 450.1" y="496.6" text-anchor="middle" font-size="17.8">84</text>
<text x="528.6 538.0 545.0 556.6" y="496.6" text-anchor="middle" font-size="17.8">12.2</text>
<text x="625.8 635.1 642.2 653.7" y="496.6" text-anchor="middle" font-size="17.8">12.8</text>
<text x="52.2 60.5" y="520.2" text-anchor="middle" font-size="17.8">1″</text>
<text x="140.1 149.3 156.5 167.9" y="520.2" text-anchor="middle" font-size="17.8">24.5</text>
<text x="237.2 246.5 253.6 265.1" y="520.2" text-anchor="middle" font-size="17.8">65.5</text>
<text x="334.3 343.6 350.7 362.2" y="520.2" text-anchor="middle" font-size="17.8">75.6</text>
<text x="436.1 445.4 454.8" y="520.2" text-anchor="middle" font-size="17.8">101</text>
<text x="528.6 538.0 545.0 556.6" y="520.2" text-anchor="middle" font-size="17.8">14.5</text>
<text x="635.1 644.4" y="520.2" text-anchor="middle" font-size="17.8">15</text>
<text x="33.6 42.9 52.2 61.5 70.8 79.1" y="544.8" text-anchor="middle" font-size="17.8">1-1/4″</text>
<text x="149.3 158.7" y="544.8" text-anchor="middle" font-size="17.8">31</text>
<text x="246.5 255.8" y="544.8" text-anchor="middle" font-size="17.8">68</text>
<text x="334.3 343.6 350.7 362.2" y="544.8" text-anchor="middle" font-size="17.8">83.6</text>
<text x="436.1 445.4 454.8" y="544.8" text-anchor="middle" font-size="17.8">116</text>
<text x="528.6 538.0 545.0 556.6" y="544.8" text-anchor="middle" font-size="17.8">15.5</text>
<text x="635.1 644.4" y="544.8" text-anchor="middle" font-size="17.8">15</text>
<text x="33.6 42.9 52.2 61.5 70.8 79.1" y="570.1" text-anchor="middle" font-size="17.8">1-1/2″</text>
<text x="149.3 158.7" y="570.1" text-anchor="middle" font-size="17.8">39</text>
<text x="246.5 255.8" y="570.1" text-anchor="middle" font-size="17.8">83</text>
<text x="334.3 343.6 350.7 362.2" y="570.1" text-anchor="middle" font-size="17.8">96.1</text>
<text x="436.1 445.4 454.8" y="570.1" text-anchor="middle" font-size="17.8">149</text>
<text x="528.6 538.0 545.0 556.6" y="570.1" text-anchor="middle" font-size="17.8">16.5</text>
<text x="635.1 644.4" y="570.1" text-anchor="middle" font-size="17.8">17</text>
<text x="52.2 60.5" y="594.0" text-anchor="middle" font-size="17.8">2″</text>
<text x="149.3 158.7" y="594.0" text-anchor="middle" font-size="17.8">49</text>
<text x="237.2 246.5 253.6 265.1" y="594.0" text-anchor="middle" font-size="17.8">90.5</text>
<text x="329.7 339.0 348.3 355.4 366.9" y="594.0" text-anchor="middle" font-size="17.8">112.5</text>
<text x="436.1 445.4 454.8" y="594.0" text-anchor="middle" font-size="17.8">149</text>
<text x="538.0 547.2" y="594.0" text-anchor="middle" font-size="17.8">18</text>
<text x="635.1 644.4" y="594.0" text-anchor="middle" font-size="17.8">18</text>
<text x="33.6 42.9 52.2 61.5 70.8 79.1" y="617.9" text-anchor="middle" font-size="17.8">2-1/2″</text>
<text x="149.3 158.7" y="617.9" text-anchor="middle" font-size="17.8">62</text>
<text x="241.8 251.1 260.4" y="617.9" text-anchor="middle" font-size="17.8">111</text>
<text x="329.7 339.0 348.3 355.4 366.9" y="617.9" text-anchor="middle" font-size="17.8">143.6</text>
<text x="436.1 445.4 454.8" y="617.9" text-anchor="middle" font-size="17.8">245</text>
<text x="538.0 547.2" y="617.9" text-anchor="middle" font-size="17.8">26</text>
<text x="635.1 644.4" y="617.9" text-anchor="middle" font-size="17.8">22</text>
</svg>
</div></body></html>
